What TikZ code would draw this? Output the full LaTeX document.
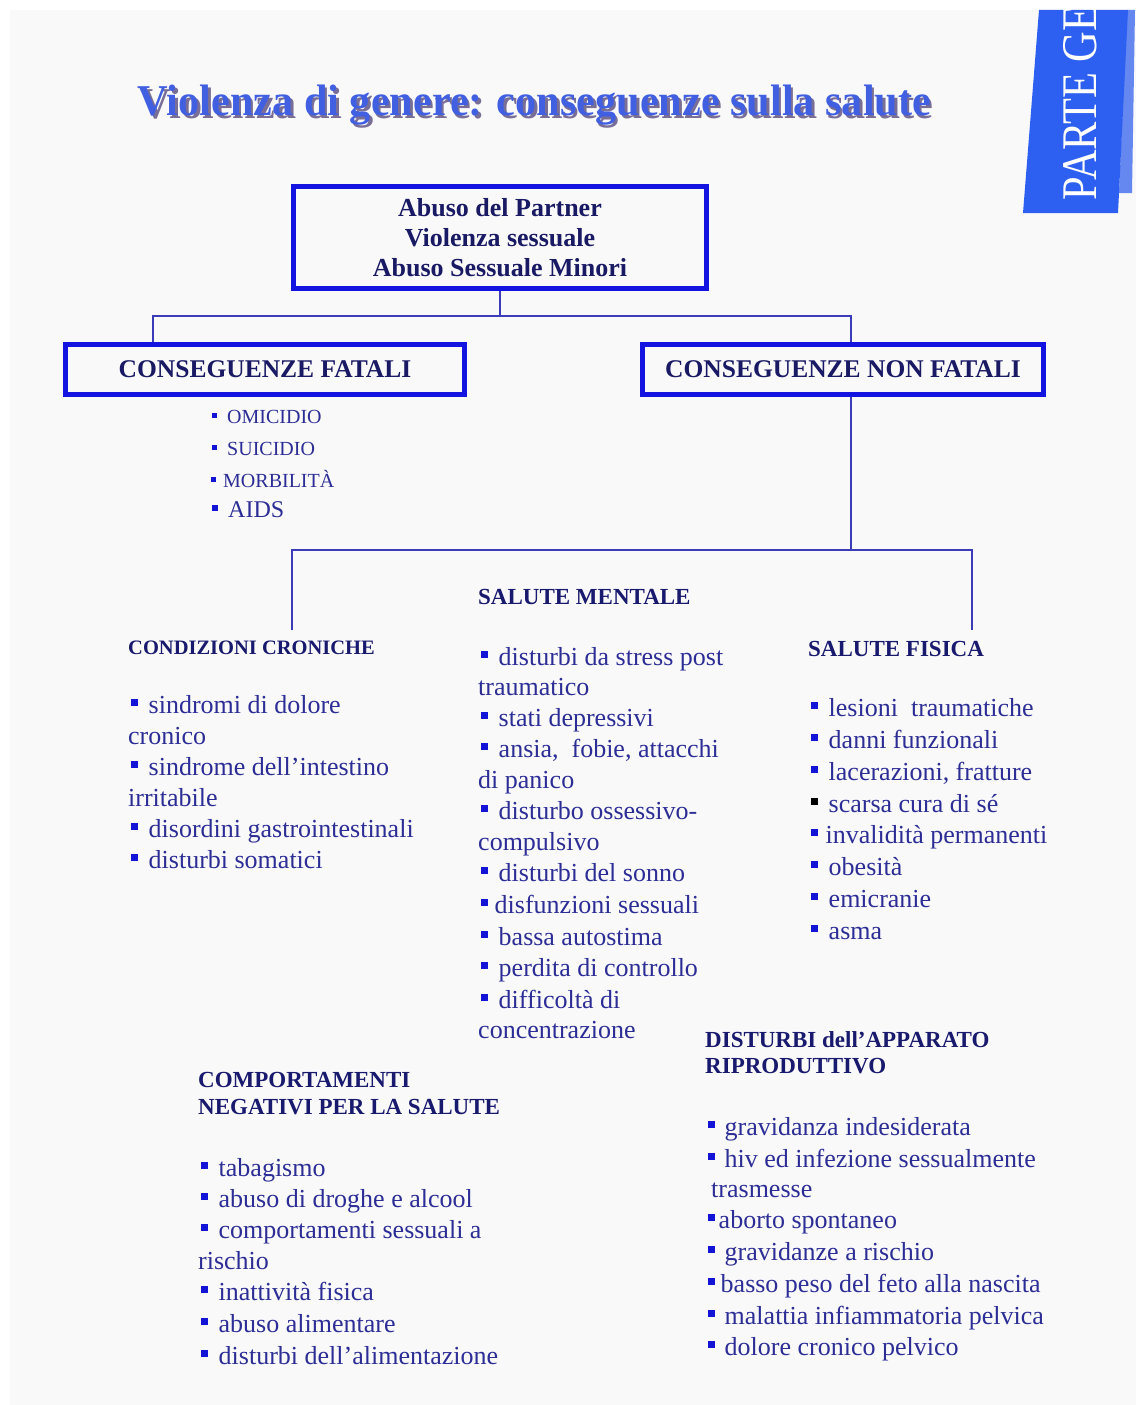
\documentclass[tikz,border=0pt]{standalone}
\usepackage{fontspec}
\setmainfont{Liberation Serif}
\usepackage{graphicx}
\definecolor{pagec}{RGB}{249,249,250}
\definecolor{boxc}{RGB}{20,20,225}
\definecolor{linec}{RGB}{60,60,185}
\definecolor{textc}{RGB}{45,45,150}
\definecolor{headc}{RGB}{25,25,110}
\definecolor{boxtextc}{RGB}{25,25,100}
\definecolor{bulc}{RGB}{20,20,215}
\definecolor{titlec}{RGB}{65,95,225}
\definecolor{shadowc}{RGB}{120,110,150}
\definecolor{tabc}{RGB}{45,95,240}
\definecolor{tablightc}{RGB}{100,135,240}
\newcommand\mybul[1][bulc]{{\color{#1}\rule[0.27em]{0.25em}{0.25em}}}
\newcommand\mytitletext{\resizebox{793pt}{\height}{\bfseries\fontsize{44}{48}\selectfont Violenza di genere: conseguenze sulla salute}}
\tikzset{
  item/.style={anchor=west, inner sep=0pt, text=textc, font=\fontsize{26}{30}\selectfont, text height=19pt, text depth=5pt},
  fitem/.style={anchor=west, inner sep=0pt, text=textc, font=\fontsize{20}{24}\selectfont, text height=15pt, text depth=4pt},
  head/.style={anchor=west, inner sep=0pt, text=headc, font=\bfseries\fontsize{23}{26}\selectfont, text height=16pt, text depth=4pt},
  cbox/.style={draw=boxc, line width=5pt, inner sep=0pt, text=boxtextc, align=center},
  conn/.style={draw=linec, line width=2pt}
}
\begin{document}
\begin{tikzpicture}[x=1pt,y=-1pt]
\useasboundingbox (0,0) rectangle (1136,1405);
\fill[white] (0,0) rectangle (1136,1405);
\fill[pagec] (10,10) rectangle (1136,1405);

% tab
\fill[tablightc] (1127,10) -- (1135,10) -- (1132,193) -- (1119,193) -- cycle;
\fill[tabc] (1039,10) -- (1128,10) -- (1118,213) -- (1023,213) -- cycle;
\begin{scope}
\clip (1020,10) rectangle (1136,215);
\node[rotate=90, text=white, inner sep=0pt] (tab) at (1080,103) {\resizebox{195pt}{33pt}{PARTE GE}};
\end{scope}

% title (with its shadow in the same node)
\node[inner sep=0pt] (title) at (534.5,107) {\makebox[0pt][l]{\raisebox{-3pt}{\hspace{2.5pt}\color{shadowc}\mytitletext}}\color{titlec}\mytitletext};

% boxes
\node[cbox, minimum width=413pt, minimum height=102pt, font=\bfseries\fontsize{26}{30}\selectfont] (top) at (500,237.5) {Abuso del Partner\\Violenza sessuale\\Abuso Sessuale Minori};
\node[cbox, minimum width=399pt, minimum height=50pt, font=\bfseries\fontsize{25.5}{30}\selectfont] (fatal) at (265,369.5) {CONSEGUENZE FATALI};
\node[cbox, minimum width=401pt, minimum height=50pt, font=\bfseries\fontsize{25.5}{30}\selectfont] (nonfatal) at (843,369.5) {CONSEGUENZE NON FATALI};

% connectors
\coordinate (fL) at (153,316);
\coordinate (fR) at (851,316);
\coordinate (nL) at (292,550);
\coordinate (nR) at (972,550);
\coordinate (ccend) at (292,630);
\coordinate (sfend) at (972,630);
\draw[conn] (top.south) -- (top.south |- fL);
\draw[conn] (fatal.north -| fL) -- (fL) -- (fR) -- (nonfatal.north -| fR);
\draw[conn] (nonfatal.south -| fR) -- (fR |- nL);
\draw[conn] (ccend) -- (nL) -- (nR) -- (sfend);

% fatal list
\node[fitem] (f1) at (212,418) {\mybul\hspace{10pt}OMICIDIO};
\node[fitem] (f2) at (212,450) {\mybul\hspace{10pt}SUICIDIO};
\node[fitem] (f3) at (211,482) {\mybul\hspace{7pt}MORBILIT\`A};
\node[fitem, font=\fontsize{24}{28}\selectfont] (f4) at (212,512) {\mybul\hspace{10pt}AIDS};

% headers
\node[head] (hm) at (478,598) {SALUTE MENTALE};
\node[head, font=\bfseries\fontsize{20.5}{24}\selectfont] (hc) at (128,648) {CONDIZIONI CRONICHE};
\node[head] (hf) at (808,650) {SALUTE FISICA};
\node[head] (hb1) at (198,1081) {COMPORTAMENTI};
\node[head] (hb2) at (198,1108) {NEGATIVI PER LA SALUTE};
\node[head] (hr1) at (705,1041) {DISTURBI dell’APPARATO};
\node[head] (hr2) at (705,1067) {RIPRODUTTIVO};

% condizioni croniche
\node[item] (c1) at (131,706) {\mybul\hspace{11pt}sindromi di dolore};
\node[item] (c2) at (128,737) {cronico};
\node[item] (c3) at (131,768) {\mybul\hspace{11pt}sindrome dell’intestino};
\node[item] (c4) at (128,799) {irritabile};
\node[item] (c5) at (131,830) {\mybul\hspace{11pt}disordini gastrointestinali};
\node[item] (c6) at (131,861) {\mybul\hspace{11pt}disturbi somatici};

% salute mentale
\node[item] (m1) at (481,658) {\mybul\hspace{11pt}disturbi da stress post};
\node[item] (m2) at (478,688) {traumatico};
\node[item] (m3) at (481,719) {\mybul\hspace{11pt}stati depressivi};
\node[item] (m4) at (481,750) {\mybul\hspace{11pt}ansia,\ \ fobie, attacchi};
\node[item] (m5) at (478,781) {di panico};
\node[item] (m6) at (481,812) {\mybul\hspace{11pt}disturbo ossessivo-};
\node[item] (m7) at (478,843) {compulsivo};
\node[item] (m8) at (481,874) {\mybul\hspace{11pt}disturbi del sonno};
\node[item] (m9) at (481,906) {\mybul\hspace{7pt}disfunzioni sessuali};
\node[item] (m10) at (481,938) {\mybul\hspace{11pt}bassa autostima};
\node[item] (m11) at (481,969) {\mybul\hspace{11pt}perdita di controllo};
\node[item] (m12) at (481,1001) {\mybul\hspace{11pt}difficoltà di};
\node[item] (m13) at (478,1031) {concentrazione};

% salute fisica
\node[item] (s1) at (811,709) {\mybul\hspace{11pt}lesioni\ \ traumatiche};
\node[item] (s2) at (811,741) {\mybul\hspace{11pt}danni funzionali};
\node[item] (s3) at (811,773) {\mybul\hspace{11pt}lacerazioni, fratture};
\node[item] (s4) at (811,805) {\mybul[black]\hspace{11pt}scarsa cura di sé};
\node[item] (s5) at (811,836) {\mybul\hspace{8pt}invalidità permanenti};
\node[item] (s6) at (811,868) {\mybul\hspace{11pt}obesità};
\node[item] (s7) at (811,900) {\mybul\hspace{11pt}emicranie};
\node[item] (s8) at (811,932) {\mybul\hspace{11pt}asma};

% comportamenti
\node[item] (b1) at (201,1169) {\mybul\hspace{11pt}tabagismo};
\node[item] (b2) at (201,1200) {\mybul\hspace{11pt}abuso di droghe e alcool};
\node[item] (b3) at (201,1231) {\mybul\hspace{11pt}comportamenti sessuali a};
\node[item] (b4) at (198,1262) {rischio};
\node[item] (b5) at (201,1293) {\mybul\hspace{11pt}inattività fisica};
\node[item] (b6) at (201,1325) {\mybul\hspace{11pt}abuso alimentare};
\node[item] (b7) at (201,1357) {\mybul\hspace{11pt}disturbi dell’alimentazione};

% riproduttivo
\node[item] (r1) at (708,1128) {\mybul\hspace{10pt}gravidanza indesiderata};
\node[item] (r2) at (708,1160) {\mybul\hspace{10pt}hiv ed infezione sessualmente};
\node[item] (r3) at (711,1190) {trasmesse};
\node[item] (r4) at (708,1221) {\mybul\hspace{4pt}aborto spontaneo};
\node[item] (r5) at (708,1253) {\mybul\hspace{10pt}gravidanze a rischio};
\node[item] (r6) at (708,1285) {\mybul\hspace{6pt}basso peso del feto alla nascita};
\node[item] (r7) at (708,1317) {\mybul\hspace{10pt}malattia infiammatoria pelvica};
\node[item] (r8) at (708,1348) {\mybul\hspace{10pt}dolore cronico pelvico};
\end{tikzpicture}
\end{document}
